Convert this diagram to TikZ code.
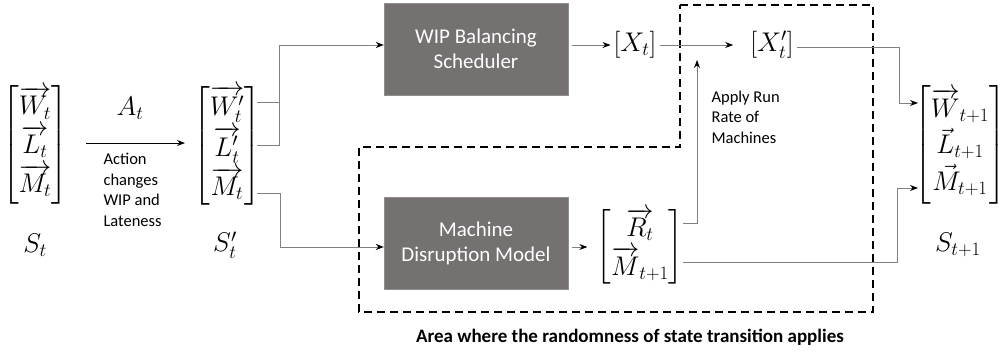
\RequirePackage{fix-cm}
\documentclass[tikz,border=0pt]{standalone}
\usepackage{amsmath}
\usepackage{fontspec}
\setmainfont{Carlito}
\usetikzlibrary{arrows.meta}
\definecolor{boxgray}{HTML}{757171}
\definecolor{linegray}{HTML}{808080}
\begin{document}
\begin{tikzpicture}[x=1pt,y=-1pt,
  conn/.style={draw=linegray, line width=0.8pt, -{Stealth[length=8pt,width=6pt,black]}},
  plain/.style={draw=linegray, line width=0.8pt},
  box/.style={fill=boxgray, draw=boxgray!80, minimum width=184pt, minimum height=92pt, align=center, text=white, font=\fontsize{21}{25}\selectfont},
  mathnode/.style={inner sep=1pt, font=\fontsize{27}{32}\selectfont},
  lbl/.style={align=left, font=\fontsize{16.5}{20.5}\selectfont},
  area/.style={draw=black, line width=2.6pt, dash pattern=on 8pt off 5pt}]
\useasboundingbox (0,0) rectangle (1004,355);
% dashed area
\draw[area] (680,5) -- (873,5) -- (873,312) -- (359,312) -- (359,147) -- (680,147) -- cycle;
% state S_t
\node[mathnode] (st) at (35,145) {$\renewcommand{\arraystretch}{1.1}\left[\begin{array}{@{}c@{}}\overrightarrow{W_t}\\ \overrightarrow{L_t}\\ \overrightarrow{M_t}\end{array}\right]$};
\node[mathnode] (stlbl) at (35,245) {$S_t$};
\node[mathnode] (at) at (130,108) {$A_t$};
\node[lbl, anchor=north west] (actlbl) at (100,150) {Action\\changes\\WIP and\\Lateness};
% state S'_t
\node[mathnode] (stp) at (227,146) {$\renewcommand{\arraystretch}{1.1}\left[\begin{array}{@{}c@{}}\overrightarrow{W_t'}\\ \overrightarrow{L_t'}\\ \overrightarrow{M_t}\end{array}\right]$};
\node[mathnode] (stplbl) at (225,245) {$S_t'$};
\coordinate (stpW) at (257,102);
\coordinate (stpL) at (257,145);
\coordinate (stpM) at (257,193);
\coordinate (fork) at (279,45);
\coordinate (mfork) at (280,247);
% boxes
\node[box] (wip) at (476,49) {WIP Balancing\\Scheduler};
\node[box] (mdm) at (476,243) {Machine\\Disruption Model};
% X
\node[mathnode] (xt) at (635,45) {$[X_t]$};
\node[mathnode] (xtp) at (772,45) {$[X_t']$};
% R, M
\node[mathnode] (rm) at (640,247) {$\renewcommand{\arraystretch}{1.05}\left[\begin{array}{@{}c@{}}\overrightarrow{R_t}\\ \overrightarrow{M}_{t+1}\end{array}\right]$};
\coordinate (rmR) at (683,223);
\coordinate (rmM) at (683,262);
\coordinate (runUp) at (697,60);
\node[lbl, anchor=west] (runlbl) at (708,117) {Apply Run\\Rate of\\Machines};
% S_{t+1}
\node[mathnode, inner sep=0pt] (snext) at (960,145) {$\renewcommand{\arraystretch}{1.1}\left[\begin{array}{@{}c@{}}\overrightarrow{W}_{t+1}\\ \vec{L}_{t+1}\\ \vec{M}_{t+1}\end{array}\right]$};
\node[mathnode] (snlbl) at (958,245) {$S_{t+1}$};
\coordinate (snextW) at (918,103);
\coordinate (snextM) at (918,188);
% bottom label
\node[font=\bfseries\fontsize{19}{22}\selectfont] (arealbl) at (630,337) {Area where the randomness of state transition applies};
% connectors
\draw[draw=black, line width=0.8pt, -{Stealth[length=8pt,width=6pt,black]}] (86,143) -- (185,143);
\draw[plain] (stpW) -- (stpW -| fork);
\draw[conn] (stpL) -| (fork) -- ([yshift=4pt]wip.west);
\draw[conn] (stpM) -| (mfork) -- (mfork -| mdm.west);
\draw[conn] ([xshift=4pt,yshift=4pt]wip.east) -- ([xshift=-2pt]xt.west);
\draw[conn] (mdm.east |- mfork) ++(4,0) -- ([xshift=-8pt]rm.west |- mfork);
\draw[conn] ([xshift=2pt]xt.east) -- ([xshift=-16pt]xtp.west);
\draw[conn] (rmR) -| (runUp);
\draw[conn] (rmM) -| ([xshift=-21pt]snextM) -- (snextM);
\draw[conn] ([xshift=2pt,yshift=-2pt]xtp.east) -| ([xshift=-19pt]snextW) -- (snextW);
\end{tikzpicture}
\end{document}
